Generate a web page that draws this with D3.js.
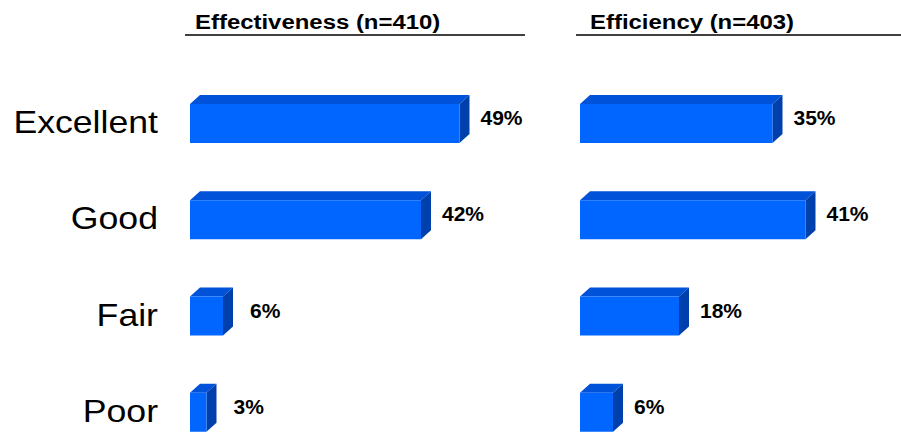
<!DOCTYPE html>
<html>
<head>
<meta charset="utf-8">
<script src="https://cdn.jsdelivr.net/npm/d3@7/dist/d3.min.js"></script>
<style>
  html, body { margin: 0; padding: 0; background: #fff; }
  svg { display: block; }
</style>
</head>
<body>
<svg id="chart" width="901" height="432"></svg>
<script>
// Survey ratings, percent of respondents
const categories = ["Excellent", "Good", "Fair", "Poor"];
const panelTitles = ["Effectiveness (n=410)", "Efficiency (n=403)"];
const effectiveness = [49, 42, 6, 3];
const efficiency = [35, 41, 18, 6];

const svg = d3.select("#chart");

const colors = { front: "#0066ff", top: "#0052d9", side: "#0040ad" };
const depth = { dx: 10, dy: 9 };

// Rows: each band holds one 3D bar (front face) for a category
const y = d3.scaleBand().domain(categories).range([104, 489]).paddingInner(0.0).paddingOuter(0);
const frontH = 39;

// Category labels on the left
svg.append("g").selectAll("text")
  .data(categories)
  .join("text")
  .attr("transform", d => `translate(158,${y(d) + 29}) scale(1.15,1)`)
  .attr("text-anchor", "end")
  .attr("font-family", "Liberation Sans, Arial, sans-serif")
  .attr("font-size", 31)
  .attr("fill", "#000")
  .text(d => d);

const panels = [
  { title: panelTitles[0], values: effectiveness, x0: 190, lineX: [185, 525], titleX: 195 },
  { title: panelTitles[1], values: efficiency, x0: 580, lineX: [576, 901], titleX: 590 }
];

panels.forEach(p => {
  const x = d3.scaleLinear().domain([0, 50]).range([p.x0, p.x0 + 275]);
  const g = svg.append("g");

  g.append("text")
    .attr("transform", `translate(${p.titleX},29) scale(1.14,1)`)
    .attr("font-family", "Liberation Sans, Arial, sans-serif")
    .attr("font-weight", "bold")
    .attr("font-size", 21)
    .attr("fill", "#000")
    .text(p.title);

  g.append("line")
    .attr("x1", p.lineX[0]).attr("x2", p.lineX[1])
    .attr("y1", 35).attr("y2", 35)
    .attr("stroke", "#000").attr("stroke-width", 1.6);

  const rows = g.selectAll("g.bar")
    .data(categories.map((c, i) => ({ c, v: p.values[i] })))
    .join("g").attr("class", "bar");

  // top face
  rows.append("path")
    .attr("fill", colors.top)
    .attr("d", d => {
      const x1 = x(0), x2 = x(d.v), t = y(d.c);
      return `M${x1},${t} L${x1 + depth.dx},${t - depth.dy} L${x2 + depth.dx},${t - depth.dy} L${x2},${t} Z`;
    });
  // side face
  rows.append("path")
    .attr("fill", colors.side)
    .attr("d", d => {
      const x2 = x(d.v), t = y(d.c), b = t + frontH;
      return `M${x2},${t} L${x2 + depth.dx},${t - depth.dy} L${x2 + depth.dx},${b - depth.dy} L${x2},${b} Z`;
    });
  // front face
  rows.append("rect")
    .attr("fill", colors.front)
    .attr("x", x(0))
    .attr("y", d => y(d.c))
    .attr("width", d => x(d.v) - x(0))
    .attr("height", frontH);

  // value labels
  rows.append("text")
    .attr("x", d => x(d.v) + 21 + (d.v < 10 && p.x0 < 300 ? 6 : 0))
    .attr("y", d => y(d.c) + 21)
    .attr("font-family", "Liberation Sans, Arial, sans-serif")
    .attr("font-weight", "bold")
    .attr("font-size", 21)
    .attr("fill", "#000")
    .text(d => d.v + "%");
});
</script>
</body>
</html>
